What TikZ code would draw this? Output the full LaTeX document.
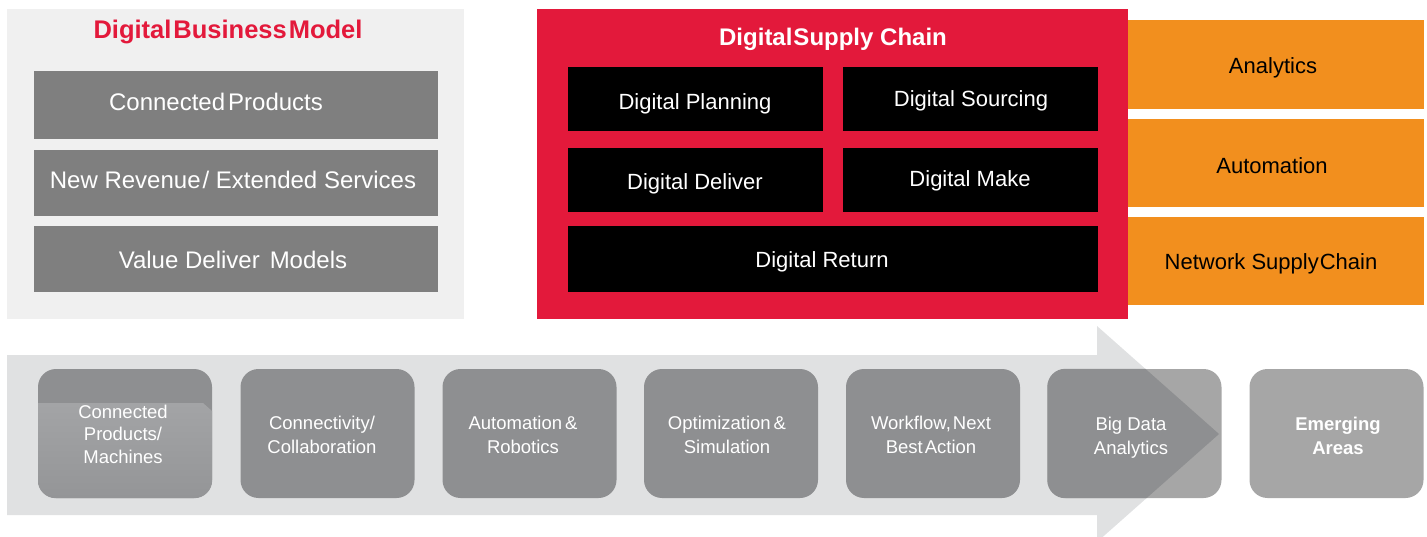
\documentclass[tikz,border=0pt]{standalone}
\usepackage{fontspec}
\setmainfont{Liberation Sans}
\definecolor{dbred}{HTML}{E3193B}
\definecolor{panelgray}{HTML}{F0F0F0}
\definecolor{boxgray}{HTML}{7F7F7F}
\definecolor{orng}{HTML}{F28F1E}
\definecolor{arrowgray}{HTML}{E0E1E2}
\definecolor{rbox}{HTML}{8E8F91}
\definecolor{rboxlight}{HTML}{A6A6A6}
\definecolor{rboxhi}{HTML}{A3A4A6}
\definecolor{rboxlo}{HTML}{949597}
\tikzset{
  panel/.style={anchor=north west, inner sep=0, outer sep=0},
  gbox/.style={fill=boxgray, minimum width=404, minimum height=66, inner sep=0},
  bbox/.style={fill=black, minimum width=255, minimum height=64, inner sep=0},
  obox/.style={fill=orng, minimum width=296, minimum height=88, inner sep=0},
  rbx/.style={fill=rbox, rounded corners=18, minimum width=174, minimum height=129, inner sep=0},
  gtext/.style={text=white, font=\fontsize{24}{28}\selectfont, inner sep=0},
  btext/.style={text=white, font=\fontsize{22}{26}\selectfont, inner sep=0},
  otext/.style={text=black, font=\fontsize{22}{26}\selectfont, inner sep=0},
  rtext/.style={text=white, font=\fontsize{18.5}{24}\selectfont, align=center, inner sep=0},
  ttl/.style={font=\bfseries\fontsize{24}{28}\selectfont, inner sep=0}
}
\begin{document}
\begin{tikzpicture}[x=1pt,y=-1pt]
\useasboundingbox (0,0) rectangle (1427,537);
% ---------- left panel ----------
\node[panel, fill=panelgray, minimum width=457, minimum height=310] (dbm) at (7,9) {};
\node[ttl, text=dbred, font=\bfseries\fontsize{25.5}{28}\selectfont] (dbmt) at (228,32) {Digital\hspace{2pt}Business\hspace{2pt}Model};
\node[gbox, minimum height=68] (cp) at (236,105) {};
\node[gbox] (nr) at (236,183) {};
\node[gbox] (vd) at (236,259) {};
\node[gtext] (cpt) at (216,102) {Connected\hspace{3pt}Products};
\node[gtext] (nrt) at (233,180) {New Revenue\hspace{2pt}/ Extended Services};
\node[gtext] (vdt) at (233,260) {Value Deliver\hspace{10pt}Models};
% ---------- red panel ----------
\node[panel, fill=dbred, minimum width=591, minimum height=310] (dsc) at (537,9) {};
\node[ttl, text=white] (dsct) at (833,39) {Digital\hspace{1pt}Supply Chain};
\node[bbox] (pl) at (695.5,99) {};
\node[bbox] (so) at (970.5,99) {};
\node[bbox] (de) at (695.5,180) {};
\node[bbox] (mk) at (970.5,180) {};
\node[bbox, minimum width=530, minimum height=66] (re) at (833,259) {};
\node[btext] (plt) at (695,104) {Digital Planning};
\node[btext] (sot) at (971,101) {Digital Sourcing};
\node[btext] (det) at (695,184) {Digital Deliver};
\node[btext] (mkt) at (970,181) {Digital Make};
\node[btext] (ret) at (822,262) {Digital Return};
% ---------- orange ----------
\node[obox, minimum height=89] (an) at (1276,64.5) {};
\node[obox] (au) at (1276,163) {};
\node[obox] (ns) at (1276,261) {};
\node[otext] (ant) at (1273,68) {Analytics};
\node[otext] (aut) at (1272,166) {Automation};
\node[otext] (nst) at (1271,264) {Network Supply\hspace{1pt}Chain};
% ---------- arrow ----------
\fill[arrowgray] (7,355) -- (1097,355) -- (1097,326) -- (1219,434) -- (1097,542) -- (1097,515) -- (7,515) -- cycle;
% ---------- rounded boxes ----------
\node[rbx] (b1) at (125,433.5) {};
\node[rbx] (b2) at (327.5,433.5) {};
\node[rbx] (b3) at (529.5,433.5) {};
\node[rbx] (b4) at (731,433.5) {};
\node[rbx] (b5) at (933,433.5) {};
\node[rbx, fill=rboxlight] (b6) at (1134.5,433.5) {};
\node[rbx, fill=rboxlight] (b7) at (1336.5,433.5) {};
\begin{scope}
  \clip (7,355) -- (1097,355) -- (1097,326) -- (1219,434) -- (1097,542) -- (1097,515) -- (7,515) -- cycle;
  \fill[rbox, rounded corners=18] (b6.south west) rectangle (b6.north east);
\end{scope}
\begin{scope}
  \clip[rounded corners=18] (b1.south west) rectangle (b1.north east);
  \shade[top color=rboxhi, bottom color=rboxlo] (38,403) -- (203,403) -- (212,411) -- (212,498) -- (38,498) -- cycle;
\end{scope}
\node[rtext, font=\fontsize{18.5}{22.5}\selectfont] (b1t) at (123,434) {Connected\\Products/\\Machines};
\node[rtext] (b2t) at (322,435) {Connectivity/\\Collaboration};
\node[rtext] (b3t) at (523,435) {Automation\hspace{3pt}\&\\Robotics};
\node[rtext] (b4t) at (727,435) {Optimization\hspace{3pt}\&\\Simulation};
\node[rtext] (b5t) at (931,435) {Workflow,\hspace{2pt}Next\\Best\hspace{2pt}Action};
\node[rtext] (b6t) at (1131,438) {Big Data\\Analytics};
\node[rtext, font=\bfseries\fontsize{18.5}{24}\selectfont] (b7t) at (1338,436) {Emerging\\Areas};
\end{tikzpicture}
\end{document}
